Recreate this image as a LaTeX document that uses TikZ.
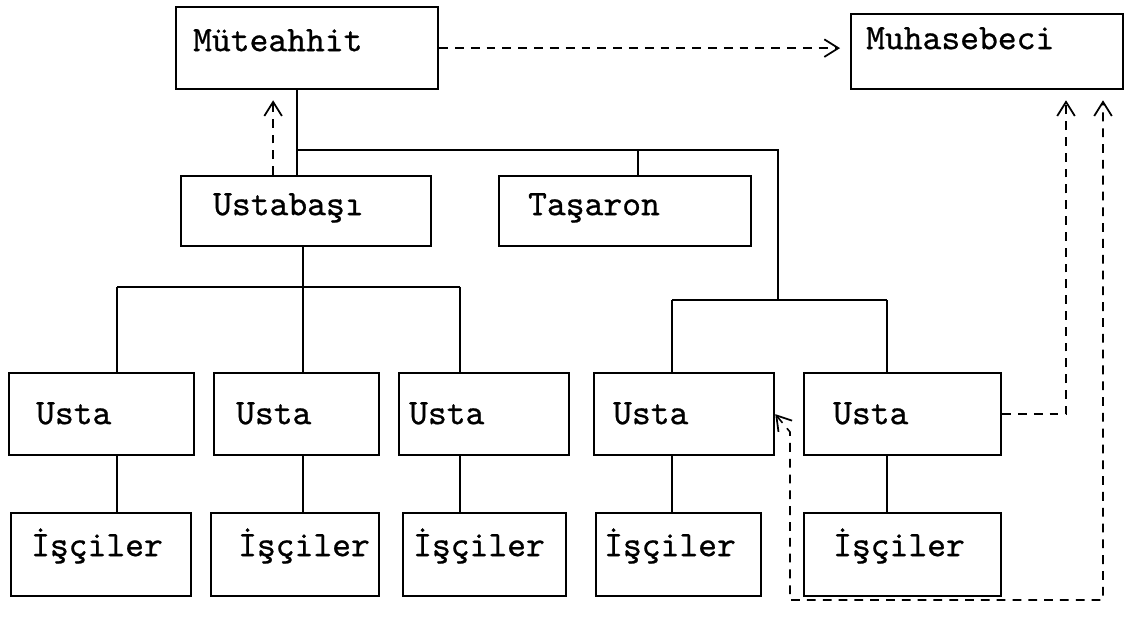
\documentclass[tikz,border=0pt]{standalone}
\usepackage{fontspec}
\setmonofont{lmmono10-regular.otf}[RawFeature={embolden=0.7}]
\usetikzlibrary{arrows.meta}
\newcommand{\typefont}{\ttfamily\fontsize{20.4}{22}\selectfont}

\begin{document}
\begin{tikzpicture}[
    x=0.02cm, y=-0.02cm,
    >={Straight Barb[length=8pt, width=10pt, line width=1pt]},
    box/.style 2 args={rectangle, draw, line width=1.3pt, anchor=north west,
                inner ysep=0pt, align=left, font=\typefont,
                text width=#1, inner xsep=#2},
    midrow/.style={text height=0.78cm, text depth=0.62cm},
    ustarow/.style={text height=1.02cm, text depth=0.62cm},
    workrow/.style={text height=0.86cm, text depth=0.80cm},
    link/.style={line width=1.1pt},
    flow/.style={->, line width=0.9pt, dash pattern=on 5pt off 4pt, shorten >=0.2cm}
  ]
    \useasboundingbox (0,0) rectangle (1138,631);

    \node[box={4.56cm}{0.34cm}, text height=0.88cm, text depth=0.76cm] (mut) at (175,6) {Müteahhit};
    \node[box={4.84cm}{0.30cm}, text height=0.70cm, text depth=0.80cm] (muh) at (850,13) {Muhasebeci};
    \node[box={3.72cm}{0.64cm}, midrow] (ustb) at (180,175) {Ustabaşı};
    \node[box={3.88cm}{0.58cm}, midrow] (tas) at (498,175) {Taşaron};

    \node[box={2.62cm}{0.54cm}, ustarow] (u1) at (8,372) {Usta};
    \node[box={2.42cm}{0.44cm}, ustarow] (u2) at (213,372) {Usta};
    \node[box={3.00cm}{0.20cm}, ustarow] (u3) at (398,372) {Usta};
    \node[box={2.84cm}{0.38cm}, ustarow] (u4) at (593,372) {Usta};
    \node[box={2.78cm}{0.58cm}, ustarow] (u5) at (803,372) {Usta};

    \node[box={2.80cm}{0.40cm}, workrow] (i1) at (10,512) {İşçiler};
    \node[box={2.28cm}{0.54cm}, workrow] (i2) at (210,512) {İşçiler};
    \node[box={2.86cm}{0.20cm}, workrow] (i3) at (402,512) {İşçiler};
    \node[box={2.98cm}{0.16cm}, workrow] (i4) at (595,512) {İşçiler};
    \node[box={2.78cm}{0.58cm}, workrow] (i5) at (803,512) {İşçiler};

    \coordinate (hub) at (297,150);
    \coordinate (turn) at (778,150);
    \coordinate (rbar) at (778,300);
    \coordinate (c1) at (117,287);
    \coordinate (c2) at (303,287);
    \coordinate (c3) at (460,287);
    \coordinate (c4) at (672,300);
    \coordinate (c5) at (887,300);
    \coordinate (m1) at (1066,0);
    \coordinate (m2) at (1103,600);
    \coordinate (m3) at (790,600);
    \coordinate (m4) at (790,432);

    \draw[link] (mut.south -| hub) -- (hub |- ustb.north);
    \draw[link] (hub) -- (turn) -- (rbar);
    \draw[link] ([xshift=0.26cm]tas.north |- hub) -- ([xshift=0.26cm]tas.north);
    \draw[link] (ustb.south -| c2) -- (c2);
    \draw[link] (c1) -- (c3);
    \draw[link] (c4) -- (c5);

    \draw[link] (c1) -- (c1 |- u1.north);
    \draw[link] (c2) -- (c2 |- u2.north);
    \draw[link] (c3) -- (c3 |- u3.north);
    \draw[link] (c4) -- (c4 |- u4.north);
    \draw[link] (c5) -- (c5 |- u5.north);
    \draw[link] (c1 |- u1.south) -- (c1 |- i1.north);
    \draw[link] (c2 |- u2.south) -- (c2 |- i2.north);
    \draw[link] (c3 |- u3.south) -- (c3 |- i3.north);
    \draw[link] (c4 |- u4.south) -- (c4 |- i4.north);
    \draw[link] (c5 |- u5.south) -- (c5 |- i5.north);

    \draw[flow] (mut.east) -- (mut.east -| muh.west);
    \draw[flow] ([xshift=-0.66cm]ustb.north) -- ([xshift=-0.66cm]ustb.north |- mut.south);
    \draw[flow] (u5.east) -- (u5.east -| m1) -- (m1 |- muh.south);
    \draw[flow, <->] (u4.east) -- (m4) -- (m3) -- (m2) -- (m2 |- muh.south);
  \end{tikzpicture}
\end{document}
